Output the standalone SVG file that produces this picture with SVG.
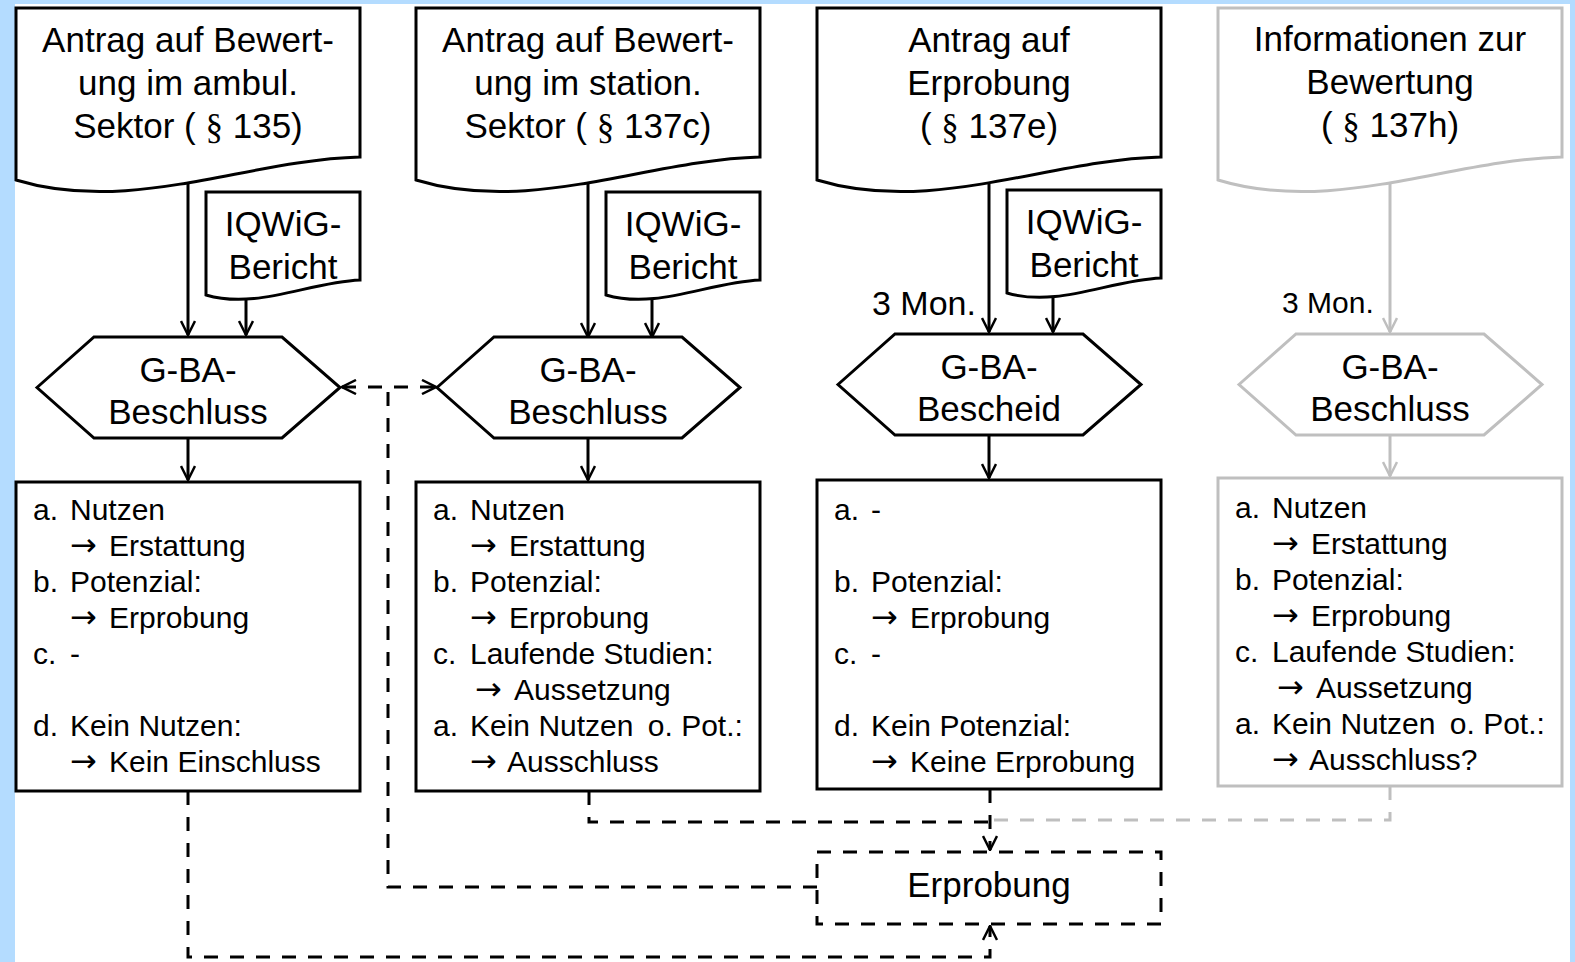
<svg xmlns="http://www.w3.org/2000/svg" width="1575" height="962" viewBox="0 0 1575 962">
<style>
.big{font-family:"Liberation Sans",Arial,sans-serif;font-size:35px;fill:#000;text-anchor:middle}
.sm{font-family:"Liberation Sans",Arial,sans-serif;font-size:30px;fill:#000}
.ar{font-family:"DejaVu Sans",sans-serif;font-size:32px}
.par{font-family:"Liberation Serif",serif;font-weight:normal}
.shp{fill:#fff;stroke:#000;stroke-width:3;stroke-linejoin:miter}
.gshp{fill:#fff;stroke:#bfbfbf;stroke-width:3}
.ln{fill:none;stroke:#000;stroke-width:3}
.gln{fill:none;stroke:#bfbfbf;stroke-width:3}
.dash{stroke-dasharray:14 12}
</style>
<defs>
<marker id="arr" viewBox="0 0 16 16" refX="15" refY="8" markerWidth="16" markerHeight="16" markerUnits="userSpaceOnUse" orient="auto-start-reverse">
<path d="M1,1 L15,8 L1,15" fill="none" stroke="#000" stroke-width="2.5"/>
</marker>
<marker id="garr" viewBox="0 0 16 16" refX="15" refY="8" markerWidth="16" markerHeight="16" markerUnits="userSpaceOnUse" orient="auto">
<path d="M1,1 L15,8 L1,15" fill="none" stroke="#bfbfbf" stroke-width="2.5"/>
</marker>
</defs>
<rect x="0" y="0" width="1575" height="962" fill="#b4dcff"/>
<rect x="15" y="4" width="1555" height="958" fill="#fff"/>

<g id="connectors">
<path class="ln" d="M188,184 V335" marker-end="url(#arr)"/>
<path class="ln" d="M246,298 V335" marker-end="url(#arr)"/>
<path class="ln" d="M588,184 V337" marker-end="url(#arr)"/>
<path class="ln" d="M652,298 V337" marker-end="url(#arr)"/>
<path class="ln" d="M989,184 V332" marker-end="url(#arr)"/>
<path class="ln" d="M1053,298 V332" marker-end="url(#arr)"/>
<path class="gln" d="M1390,184 V332" marker-end="url(#garr)"/>
<path class="ln" d="M188,438 V480" marker-end="url(#arr)"/>
<path class="ln" d="M588,438 V480" marker-end="url(#arr)"/>
<path class="ln" d="M989,435 V478" marker-end="url(#arr)"/>
<path class="gln" d="M1390,435 V476" marker-end="url(#garr)"/>
<path class="ln dash" d="M342,387 H436" stroke-dasharray="10 9" marker-start="url(#arr)" marker-end="url(#arr)"/>
<path class="ln dash" d="M817,887 H388 V387"/>
<path class="ln dash" d="M188,791 V957 H990 V926" marker-end="url(#arr)"/>
<path class="gln dash" d="M1390,786 V820 H990"/>
<path class="ln dash" d="M589,791 V822 H990"/>
<path class="ln dash" d="M990,789 V850" marker-end="url(#arr)"/>
</g>

<g id="doc1">
<path class="shp" d="M16,8 H360 V157 C246,160 131,215 16,180 Z"/>
<text class="big" x="188" y="52">Antrag auf Bewert-</text>
<text class="big" x="188" y="95">ung im ambul.</text>
<text class="big" x="188" y="138">Sektor ( <tspan class="par">§</tspan> 135)</text>
</g>
<g id="iqwig1">
<path class="shp" d="M206,192 H360 V280 C309,282 257,310 206,295 Z"/>
<text class="big" x="283" y="236">IQWiG-</text>
<text class="big" x="283" y="279">Bericht</text>
</g>
<g id="hex1">
<path class="shp" d="M37,387.5 L94,337 H282 L340,387.5 L282,438 H94 Z"/>
<text class="big" x="188" y="382">G-BA-</text>
<text class="big" x="188" y="424">Beschluss</text>
</g>
<g id="box1">
<rect class="shp" x="16" y="482" width="344" height="309"/>
<text class="sm" x="33" y="520">a.</text><text class="sm" x="70" y="520">Nutzen</text>
<text class="sm" x="70" y="556"><tspan class="ar">→</tspan><tspan x="109">Erstattung</tspan></text>
<text class="sm" x="33" y="592">b.</text><text class="sm" x="70" y="592">Potenzial:</text>
<text class="sm" x="70" y="628"><tspan class="ar">→</tspan><tspan x="109">Erprobung</tspan></text>
<text class="sm" x="33" y="664">c.</text><text class="sm" x="70" y="664">-</text>
<text class="sm" x="33" y="736">d.</text><text class="sm" x="70" y="736">Kein Nutzen:</text>
<text class="sm" x="70" y="772"><tspan class="ar">→</tspan><tspan x="109">Kein Einschluss</tspan></text>
</g>

<g id="doc2">
<path class="shp" d="M416,8 H760 V157 C646,160 531,215 416,180 Z"/>
<text class="big" x="588" y="52">Antrag auf Bewert-</text>
<text class="big" x="588" y="95">ung im station.</text>
<text class="big" x="588" y="138">Sektor ( <tspan class="par">§</tspan> 137c)</text>
</g>
<g id="iqwig2">
<path class="shp" d="M606,192 H760 V280 C709,282 657,310 606,295 Z"/>
<text class="big" x="683" y="236">IQWiG-</text>
<text class="big" x="683" y="279">Bericht</text>
</g>
<g id="hex2">
<path class="shp" d="M437,387.5 L494,337 H682 L740,387.5 L682,438 H494 Z"/>
<text class="big" x="588" y="382">G-BA-</text>
<text class="big" x="588" y="424">Beschluss</text>
</g>
<g id="box2">
<rect class="shp" x="416" y="482" width="344" height="309"/>
<text class="sm" x="433" y="520">a.</text><text class="sm" x="470" y="520">Nutzen</text>
<text class="sm" x="470" y="556"><tspan class="ar">→</tspan><tspan x="509">Erstattung</tspan></text>
<text class="sm" x="433" y="592">b.</text><text class="sm" x="470" y="592">Potenzial:</text>
<text class="sm" x="470" y="628"><tspan class="ar">→</tspan><tspan x="509">Erprobung</tspan></text>
<text class="sm" x="433" y="664">c.</text><text class="sm" x="470" y="664">Laufende Studien:</text>
<text class="sm" x="475" y="700"><tspan class="ar">→</tspan><tspan x="514">Aussetzung</tspan></text>
<text class="sm" x="433" y="736">a.</text><text class="sm" x="470" y="736">Kein Nutzen <tspan dx="6">o. Pot.:</tspan></text>
<text class="sm" x="470" y="772"><tspan class="ar">→</tspan><tspan x="507">Ausschluss</tspan></text>
</g>

<g id="doc3">
<path class="shp" d="M817,8 H1161 V157 C1047,160 932,215 817,180 Z"/>
<text class="big" x="989" y="52">Antrag auf</text>
<text class="big" x="989" y="95">Erprobung</text>
<text class="big" x="989" y="138">( <tspan class="par">§</tspan> 137e)</text>
</g>
<g id="iqwig3">
<path class="shp" d="M1007,190 H1161 V278 C1110,280 1058,308 1007,293 Z"/>
<text class="big" x="1084" y="234">IQWiG-</text>
<text class="big" x="1084" y="277">Bericht</text>
</g>
<text id="mon3" x="872" y="315" font-family="Liberation Sans, Arial, sans-serif" font-size="34">3 Mon.</text>
<g id="hex3">
<path class="shp" d="M838,384.5 L895,334 H1083 L1141,384.5 L1083,435 H895 Z"/>
<text class="big" x="989" y="379">G-BA-</text>
<text class="big" x="989" y="421">Bescheid</text>
</g>
<g id="box3">
<rect class="shp" x="817" y="480" width="344" height="309"/>
<text class="sm" x="834" y="520">a.</text><text class="sm" x="871" y="520">-</text>
<text class="sm" x="834" y="592">b.</text><text class="sm" x="871" y="592">Potenzial:</text>
<text class="sm" x="871" y="628"><tspan class="ar">→</tspan><tspan x="910">Erprobung</tspan></text>
<text class="sm" x="834" y="664">c.</text><text class="sm" x="871" y="664">-</text>
<text class="sm" x="834" y="736">d.</text><text class="sm" x="871" y="736">Kein Potenzial:</text>
<text class="sm" x="871" y="772"><tspan class="ar">→</tspan><tspan x="910">Keine Erprobung</tspan></text>
</g>

<g id="doc4">
<path class="gshp" d="M1218,8 H1562 V157 C1448,160 1333,215 1218,180 Z"/>
<text class="big" x="1390" y="51">Informationen zur</text>
<text class="big" x="1390" y="94">Bewertung</text>
<text class="big" x="1390" y="137">( <tspan class="par">§</tspan> 137h)</text>
</g>
<text id="mon4" x="1282" y="313" font-family="Liberation Sans, Arial, sans-serif" font-size="30">3 Mon.</text>
<g id="hex4">
<path class="gshp" d="M1239,384.5 L1296,334 H1484 L1542,384.5 L1484,435 H1296 Z"/>
<text class="big" x="1390" y="379">G-BA-</text>
<text class="big" x="1390" y="421">Beschluss</text>
</g>
<g id="box4">
<rect class="gshp" x="1218" y="478" width="344" height="308"/>
<text class="sm" x="1235" y="518">a.</text><text class="sm" x="1272" y="518">Nutzen</text>
<text class="sm" x="1272" y="554"><tspan class="ar">→</tspan><tspan x="1311">Erstattung</tspan></text>
<text class="sm" x="1235" y="590">b.</text><text class="sm" x="1272" y="590">Potenzial:</text>
<text class="sm" x="1272" y="626"><tspan class="ar">→</tspan><tspan x="1311">Erprobung</tspan></text>
<text class="sm" x="1235" y="662">c.</text><text class="sm" x="1272" y="662">Laufende Studien:</text>
<text class="sm" x="1277" y="698"><tspan class="ar">→</tspan><tspan x="1316">Aussetzung</tspan></text>
<text class="sm" x="1235" y="734">a.</text><text class="sm" x="1272" y="734">Kein Nutzen <tspan dx="6">o. Pot.:</tspan></text>
<text class="sm" x="1272" y="770"><tspan class="ar">→</tspan><tspan x="1309">Ausschluss?</tspan></text>
</g>

<g id="erprobung">
<rect x="817" y="852" width="344" height="72" fill="#fff" stroke="#000" stroke-width="3" stroke-dasharray="14 12"/>
<text class="big" x="989" y="897">Erprobung</text>
</g>
</svg>
